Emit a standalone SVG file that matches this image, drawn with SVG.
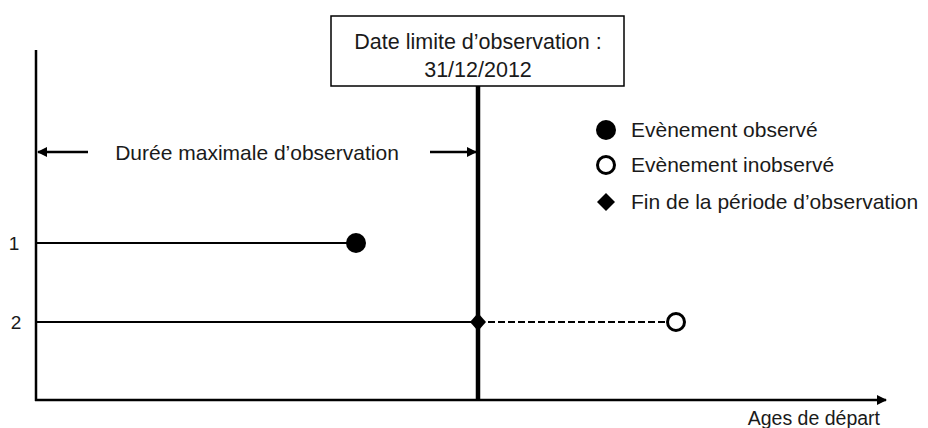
<svg xmlns="http://www.w3.org/2000/svg" width="928" height="428" viewBox="0 0 928 428">
<style>
text{font-family:"Liberation Sans","Noto Sans",sans-serif;font-size:21px;fill:#1a1a1a}
.ln{stroke:#000;fill:none}
</style>
<defs>
<marker id="ah" markerWidth="10" markerHeight="10" refX="9" refY="5" orient="auto" markerUnits="userSpaceOnUse"><path d="M0,0 L10,5 L0,10 Z" fill="#000"/></marker>
</defs>
<rect width="928" height="428" fill="#fff"/>
<g id="connectors">
<line class="ln" x1="36" y1="50" x2="36" y2="401" stroke-width="2.5"/>
<line class="ln" x1="35" y1="400" x2="886" y2="400" stroke-width="2.5" marker-end="url(#ah)"/>
<line class="ln" x1="478" y1="86" x2="478" y2="400" stroke-width="4.5"/>
<line class="ln" x1="88" y1="152" x2="38" y2="152" stroke-width="2.5" marker-end="url(#ah)"/>
<line class="ln" x1="430" y1="152" x2="476" y2="152" stroke-width="2.5" marker-end="url(#ah)"/>
<line class="ln" x1="37" y1="243" x2="350" y2="243" stroke-width="2"/>
<line class="ln" x1="37" y1="322" x2="478" y2="322" stroke-width="2"/>
<line class="ln" x1="478" y1="322" x2="667" y2="322" stroke-width="2" stroke-dasharray="7,3"/>
</g>
<g id="date-box">
<rect x="331" y="16" width="293" height="70" fill="#fff" stroke="#000" stroke-width="1.5"/>
<text x="478" y="49" text-anchor="middle" style="font-size:21.5px">Date limite d’observation :</text>
<text x="478" y="77" text-anchor="middle" style="font-size:21.5px">31/12/2012</text>
</g>
<g id="duration-label"><text x="257" y="160" text-anchor="middle">Durée maximale d’observation</text></g>
<g id="row1">
<text x="14" y="250" text-anchor="middle" style="font-size:19px">1</text>
<circle cx="356" cy="243" r="10" fill="#000"/>
</g>
<g id="row2">
<text x="16" y="329" text-anchor="middle" style="font-size:19px">2</text>
<path d="M478,313 L486,322 L478,331 L470,322 Z" fill="#000"/>
<circle cx="676" cy="322" r="8.5" fill="#fff" stroke="#000" stroke-width="3"/>
</g>
<g id="legend">
<circle cx="606" cy="130" r="10" fill="#000"/>
<text x="631" y="137">Evènement observé</text>
<circle cx="606" cy="165" r="8.5" fill="#fff" stroke="#000" stroke-width="3"/>
<text x="631" y="172">Evènement inobservé</text>
<path d="M606,193 L615,202 L606,211 L597,202 Z" fill="#000"/>
<text x="631" y="209">Fin de la période d’observation</text>
</g>
<g id="axis-label"><text x="880" y="425" text-anchor="end" style="font-size:19.5px">Ages de départ</text></g>
</svg>
